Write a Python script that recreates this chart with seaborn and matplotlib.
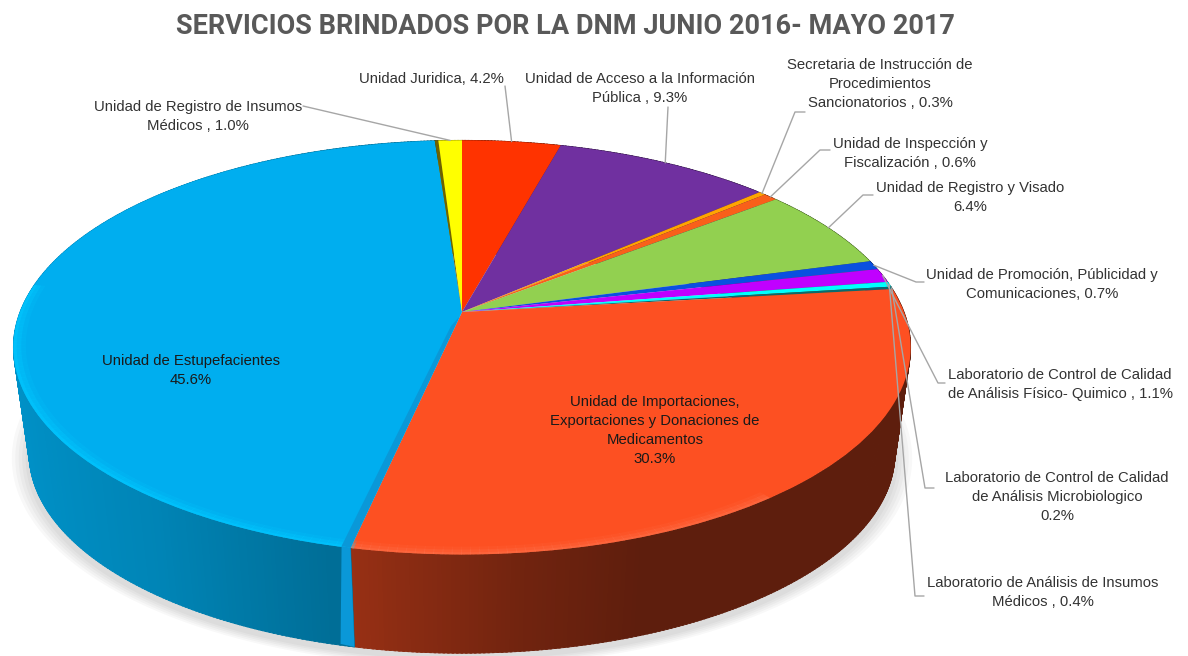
import numpy as np
import matplotlib
matplotlib.use('Agg')
import matplotlib.pyplot as plt
import matplotlib.transforms as mtransforms
from matplotlib.collections import PolyCollection
import seaborn as sns

# clockwise from 12 o'clock, the unlabelled 0.15 is the dark sliver before the yellow slice
names = ['Unidad Juridica', 'Acceso', 'Secretaria', 'Inspeccion', 'Visado', 'Promocion', 'Lab FQ',
         'Lab Insumos', 'Lab Micro', 'Importaciones', 'Estupefacientes', 'sliver', 'Registro Insumos']
values = [4.2, 9.3, 0.3, 0.6, 6.4, 0.7, 1.1, 0.4, 0.2, 30.3, 45.6, 0.15, 1.0]
colors = ['#FF3300', '#7030A0', '#FFA500', '#F9601A', '#92D050', '#0A50E0', '#C000FF',
          '#00FFFF', '#0A6A70', '#FD5022', '#00AEEF', '#6E6200', '#FFFF00']

title = 'SERVICIOS BRINDADOS POR LA DNM JUNIO 2016- MAYO 2017'

# text, centre x, first line y, leader start, elbow x, slice it points to
labels = [
    ('Unidad Juridica, 4.2%', 431, 79, (505, 86), 505, 'Unidad Juridica'),
    ('Unidad de Acceso a la Información\nPública , 9.3%', 640, 79, (668, 107), 668, 'Acceso'),
    ('Secretaria de Instrucción de\nProcedimientos\nSancionatorios , 0.3%', 880, 65, (805, 112), 795, 'Secretaria'),
    ('Unidad de Inspección y\nFiscalización , 0.6%', 910, 144, (830, 150), 820, 'Inspeccion'),
    ('Unidad de Registro y Visado\n6.4%', 970, 188, (873, 195), 863, 'Visado'),
    ('Unidad de Promoción, Públicidad y\nComunicaciones, 0.7%', 1042, 275, (924, 282), 916, 'Promocion'),
    ('Laboratorio de Control de Calidad\nde Análisis Físico- Quimico , 1.1%', 1060, 375, (945, 383), 938, 'Lab FQ'),
    ('Laboratorio de Control de Calidad\nde Análisis Microbiologico\n0.2%', 1057, 478, (934, 488), 925, 'Lab Micro'),
    ('Laboratorio de Análisis de Insumos\nMédicos , 0.4%', 1043, 583, (924, 596), 915, 'Lab Insumos'),
    ('Unidad de Registro de Insumos\nMédicos , 1.0%', 198, 107, (303, 106), 303, 'Registro Insumos'),
]
inner_labels = [
    ('Unidad de Estupefacientes\n45.6%', 191, 361),
    ('Unidad de Importaciones,\nExportaciones y Donaciones de\nMedicamentos\n30.3%', 655, 402),
]

# projection of the unit disc to picture pixels
CX, CY, RX, RY, K = 462, 312, 442, 201, 0.171
XC, YC, SB, DY = 462, 347, 0.965, 106


def project(X, Y, low=False):
    s = 1 / (1 + K * Y)
    x = CX + RX * X * s
    y = CY - RY * Y * s
    if low:
        x = XC + SB * (x - XC)
        y = YC + SB * (y - YC) + DY
    return x, y


def polar(theta, r=1.0, low=False):
    t = np.radians(theta)
    return project(r * np.cos(t), r * np.sin(t), low)


class Tilt(mtransforms.Transform):
    input_dims = 2
    output_dims = 2

    def transform_non_affine(self, values):
        xy = np.asarray(values)
        x, y = project(xy[:, 0], xy[:, 1])
        return np.column_stack([x, y])


def darken(color, f):
    return tuple(c * f for c in matplotlib.colors.to_rgb(color))


def lighten(color, f):
    return tuple(c + (1 - c) * f for c in matplotlib.colors.to_rgb(color))


sns.set_theme(style='white')
plt.rcParams['font.family'] = ['Liberation Sans', 'DejaVu Sans']
palette = sns.color_palette(colors)

fig = plt.figure(figsize=(11.88, 6.56), dpi=100)
ax = fig.add_axes([0, 0, 1, 1])
wedges, _ = ax.pie(values, colors=palette, startangle=90, counterclock=False, radius=1)
tilt = Tilt()
for w in wedges:
    w.set_transform(tilt + ax.transData)
    w.set_zorder(5)
    w.set_linewidth(0)
ax.set_aspect('auto')
ax.set_xlim(0, 1188)
ax.set_ylim(656, 0)
ax.axis('off')

wedge_by_name = dict(zip(names, wedges))
blue = wedge_by_name['Estupefacientes']
orange = wedge_by_name['Importaciones']
cut = blue.theta2  # edge shared with the orange slice

# soft shadow of the lower disc
ang = np.linspace(0, 360, 361)
bx, by = polar(ang, low=True)
lcx, lcy = XC, YC + DY
for e in (1.04, 1.032, 1.024, 1.016, 1.008):
    ax.fill(lcx + (bx - lcx) * e, lcy + (by - lcy) * e + 5, color='black', alpha=0.026, lw=0, zorder=1)

# side wall, one strip per small step of angle
polys, cols = [], []
for w, color in zip(wedges, palette):
    steps = np.arange(w.theta1, w.theta2, 0.5)
    for t in steps:
        t2 = min(t + 0.7, w.theta2)
        X = np.cos(np.radians(t))
        if w is blue:
            f = np.interp(X, [-1, -0.6, -0.25], [0.84, 0.76, 0.63])
        elif w is orange:
            f = np.interp(X, [-0.22, 0.1, 0.35], [0.6, 0.45, 0.37])
        else:
            f = 0.5
        x1, y1 = polar(t)
        x2, y2 = polar(t2)
        x3, y3 = polar(t2, low=True)
        x4, y4 = polar(t, low=True)
        polys.append([(x1, y1), (x2, y2), (x3, y3), (x4, y4)])
        cols.append(darken(color, f))
ax.add_collection(PolyCollection(polys, facecolors=cols, edgecolors=cols, linewidths=0.6, zorder=2))

# bright rim on the front of the two big slices
for w, color in ((blue, palette[10]), (orange, palette[9])):
    for r, alpha in ((0.993, 0.55), (0.983, 0.35), (0.973, 0.18)):
        rim = []
        for t in np.arange(w.theta1, w.theta2, 1.0):
            s, c = np.sin(np.radians(t)), np.cos(np.radians(t))
            if w is blue and s > 0.15:
                continue
            if w is orange and (s > -0.75 or c > 0.6):
                continue
            x1, y1 = polar(t)
            x2, y2 = polar(t + 1.1)
            x3, y3 = polar(t + 1.1, r)
            x4, y4 = polar(t, r)
            rim.append([(x1, y1), (x2, y2), (x3, y3), (x4, y4)])
        rc = (0.0, 0.78, 1.0) if w is blue else lighten(color, 0.2)
        ax.add_collection(PolyCollection(rim, facecolors=[rc], edgecolors='none',
                                         alpha=alpha if w is blue else alpha * 0.7, zorder=6))

# cut face of the blue slice, a strip of even width beside the orange one
ex, ey = polar(cut)
lx, ly = polar(cut, low=True)
bw = 9
ax.fill([CX - 2, ex, ex - bw, CX - bw - 2], [CY + 4, ey, ey - 2, CY + 14], color='#0A98D8', lw=0, zorder=7)
ax.fill([ex, ex - bw, ex - bw - 1, lx], [ey, ey - 2, ly - 3, ly], color='#0A98D8', lw=0, zorder=7)

# leader lines from the label to the middle of its slice
for text, tx, ty, start, elbow, name in labels:
    w = wedge_by_name[name]
    px, py = polar((w.theta1 + w.theta2) / 2)
    ax.plot([start[0], elbow, px], [start[1], start[1], py], color='#A6A6A6', lw=1.0, zorder=8)

for text, tx, ty, start, elbow, name in labels:
    ax.text(tx, ty - 7, text, ha='center', va='top', fontsize=10.7, color='#333333',
            linespacing=1.46, zorder=9)
for text, tx, ty in inner_labels:
    ax.text(tx, ty - 7, text, ha='center', va='top', fontsize=10.7, color='#1A1A1A',
            linespacing=1.46, zorder=9)

ax.text(565, 27, title, ha='center', va='center', fontsize=19.5, fontweight='bold',
        family=['Roboto', 'Liberation Sans'], color='#595959', zorder=9)

fig.savefig('out.png', dpi=100)
